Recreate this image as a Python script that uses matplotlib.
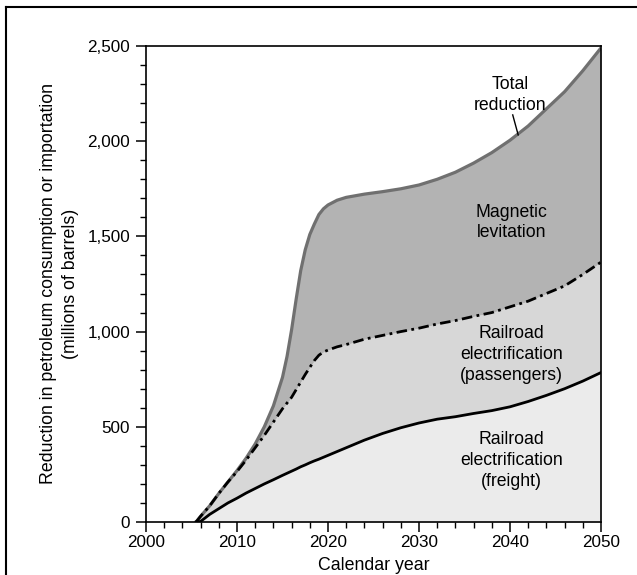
import matplotlib
matplotlib.use("Agg")
import matplotlib.pyplot as plt
from matplotlib.ticker import MultipleLocator, FuncFormatter
from matplotlib.lines import Line2D

plt.rcParams['font.family'] = ['Liberation Sans', 'DejaVu Sans']

years = [2005.5, 2006, 2007, 2008, 2009, 2010, 2011, 2012, 2013, 2014, 2015,
         2015.5, 2016, 2016.5, 2017, 2017.5, 2018, 2018.5, 2019, 2019.5, 2020,
         2021, 2022, 2024, 2026, 2028, 2030, 2032, 2034, 2036, 2038, 2040,
         2042, 2044, 2046, 2048, 2050]

freight = [0, 3, 40, 70, 100, 125, 152, 176, 200, 222, 245,
           256, 267, 278, 290, 300, 311, 321, 330, 340, 350,
           370, 390, 430, 465, 495, 520, 540, 553, 570, 585, 605,
           633, 665, 700, 740, 785]

passengers = [0, 30, 85, 150, 210, 265, 325, 390, 455, 525, 595,
              625, 655, 695, 735, 775, 812, 848, 876, 893, 903,
              920, 932, 960, 980, 1000, 1018, 1040, 1058, 1080, 1100, 1130,
              1160, 1200, 1240, 1300, 1365]

total = [0, 30, 85, 150, 210, 270, 335, 410, 500, 610, 760,
         870, 1010, 1170, 1320, 1430, 1510, 1565, 1615, 1645, 1665,
         1690, 1705, 1722, 1735, 1750, 1770, 1800, 1837, 1885, 1940, 2005,
         2080, 2170, 2260, 2370, 2490]

x_ticks = [2000, 2010, 2020, 2030, 2040, 2050]
y_ticks = [0, 500, 1000, 1500, 2000, 2500]

fig = plt.figure(figsize=(6.37, 5.75), dpi=100)
ax = fig.add_axes([146/637, 1 - 522/575, (601 - 146)/637, (522 - 46)/575])

ax.fill_between(years, 0, freight, color='#ebebeb', lw=0, zorder=1)
ax.fill_between(years, freight, passengers, color='#d7d7d7', lw=0, zorder=1)
ax.fill_between(years, passengers, total, color='#b3b3b3', lw=0, zorder=1)

ax.plot(years, total, color='#707070', lw=2.3, zorder=3, solid_capstyle='butt')
ax.plot(years, passengers, color='black', lw=2.0, zorder=4,
        linestyle=(0, (3.8, 1.6, 1.0, 1.6)))
ax.plot(years, freight, color='black', lw=2.0, zorder=5)

ax.set_xlim(2000, 2050)
ax.set_ylim(0, 2500)
ax.set_xticks(x_ticks)
ax.set_yticks(y_ticks)
ax.xaxis.set_minor_locator(MultipleLocator(2))
ax.yaxis.set_minor_locator(MultipleLocator(100))
ax.yaxis.set_major_formatter(FuncFormatter(lambda v, p: f"{int(v):,}"))
ax.tick_params(which='major', length=7.5, width=1.1, labelsize=12.3, direction='out', pad=2)
ax.tick_params(which='minor', length=4, width=1.0, direction='out')
ax.tick_params(axis='y', which='major', pad=4)
for s in ax.spines.values():
    s.set_linewidth(1.2)
    s.set_zorder(6)

ax.set_xlabel('Calendar year', fontsize=12.8, labelpad=5)
ax.set_ylabel('Reduction in petroleum consumption or importation\n(millions of barrels)',
              fontsize=12.8, labelpad=6, linespacing=1.4)

kw = dict(ha='center', va='center', fontsize=12.7, linespacing=1.3, zorder=7)
ax.text(2040.0, 2245, 'Total\nreduction', **kw)
ax.plot([2040.3, 2040.9], [2138, 2033], color='black', lw=1.0, zorder=7)
ax.text(2040.2, 1573, 'Magnetic\nlevitation', **kw)
ax.text(2040.2, 880, 'Railroad\nelectrification\n(passengers)', **kw)
ax.text(2040.2, 323, 'Railroad\nelectrification\n(freight)', **kw)

top_y = 1 - 7/575
left_x = 6/637
fig.lines.append(Line2D([left_x, 1.0], [top_y, top_y], transform=fig.transFigure,
                        color='black', lw=1.5))
fig.lines.append(Line2D([left_x, left_x], [0.0, top_y], transform=fig.transFigure,
                        color='black', lw=1.5))

fig.savefig('out.png', dpi=100)
